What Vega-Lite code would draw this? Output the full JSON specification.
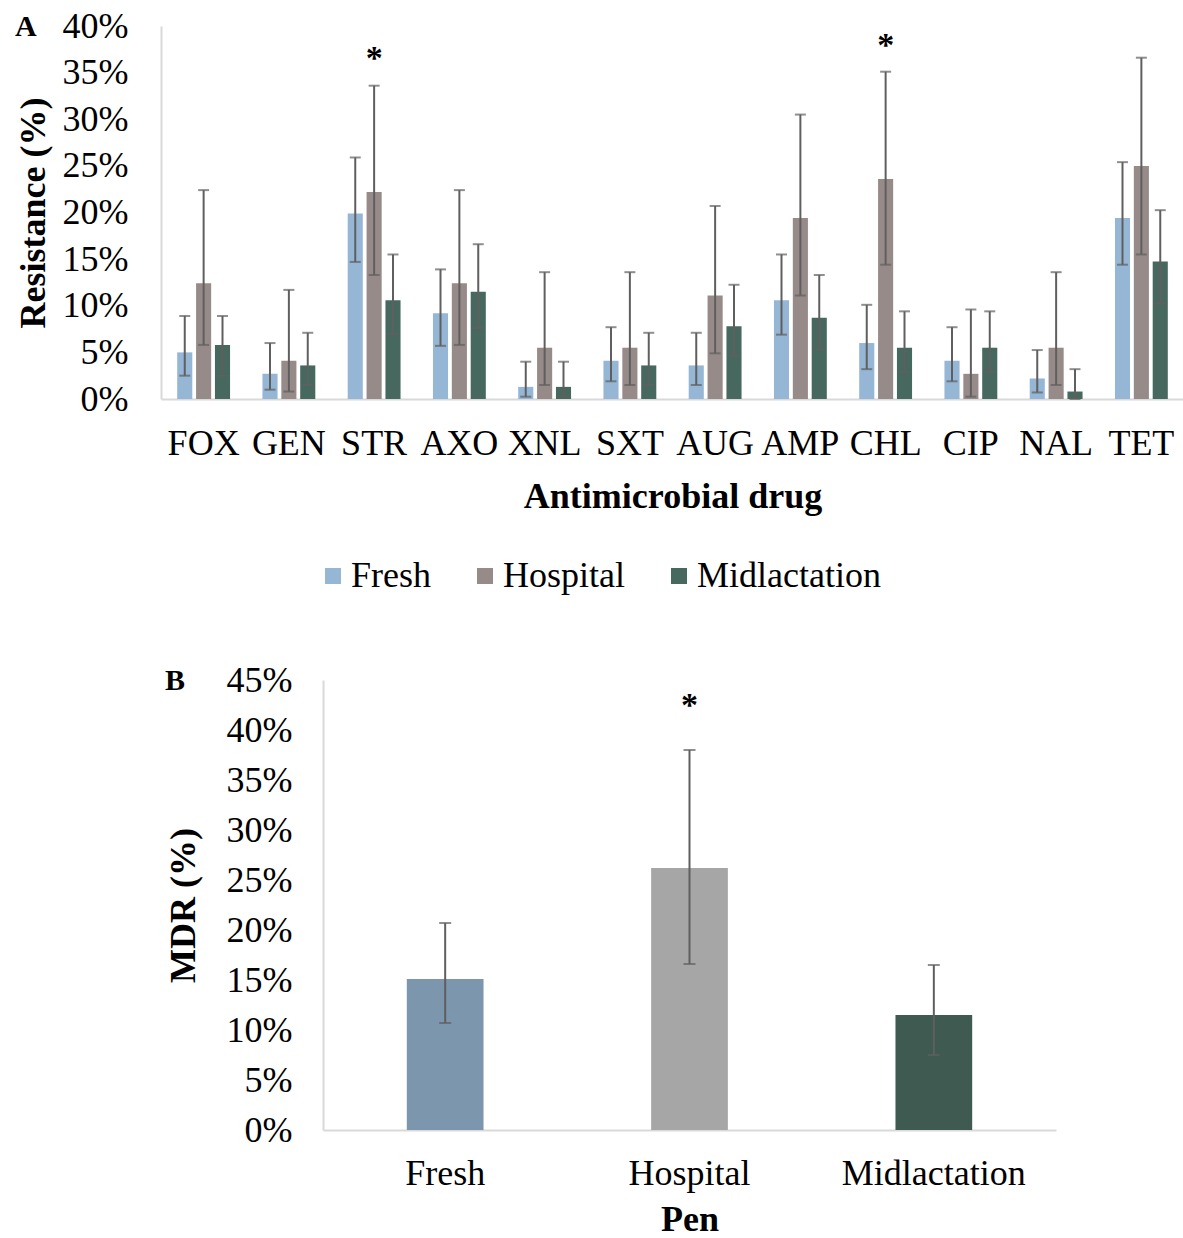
{
  "$schema": "https://vega.github.io/schema/vega-lite/v6.json",
  "background": "white",
  "padding": {"left": 15, "top": 8, "right": 0, "bottom": 0},
  "spacing": 68,
  "config": {
    "font": "Liberation Serif",
    "view": {"stroke": null},
    "axis": {
      "labelFont": "Liberation Serif",
      "titleFont": "Liberation Serif",
      "labelFontSize": 36,
      "titleFontSize": 36,
      "titleFontWeight": "bold",
      "labelColor": "#000000",
      "titleColor": "#000000",
      "labelLimit": 0,
      "grid": false,
      "ticks": false,
      "domainColor": "#d9d9d9",
      "domainWidth": 2
    },
    "legend": {
      "labelFont": "Liberation Serif",
      "labelFontSize": 36,
      "labelColor": "#000000",
      "labelLimit": 0,
      "symbolType": "square",
      "symbolSize": 256,
      "symbolStrokeWidth": 0,
      "labelOffset": 0,
      "columnPadding": 36
    },
    "title": {
      "font": "Liberation Serif",
      "fontSize": 30,
      "fontWeight": "bold",
      "color": "#000000"
    }
  },
  "resolve": {"scale": {"color": "independent", "x": "independent", "y": "independent"}},
  "vconcat": [
    {
      "width": 1023,
      "height": 373,
      "title": {"text": "A", "anchor": "start", "frame": "bounds", "offset": -34, "baseline": "top"},
      "data": {
        "values": [
          {"drug": "FOX", "pen": "Fresh", "value": 0.050, "lo": 0.025, "hi": 0.089},
          {"drug": "FOX", "pen": "Hospital", "value": 0.124, "lo": 0.058, "hi": 0.224},
          {"drug": "FOX", "pen": "Midlactation", "value": 0.058, "lo": 0.025, "hi": 0.089},
          {"drug": "GEN", "pen": "Fresh", "value": 0.027, "lo": 0.010, "hi": 0.060},
          {"drug": "GEN", "pen": "Hospital", "value": 0.041, "lo": 0.008, "hi": 0.117},
          {"drug": "GEN", "pen": "Midlactation", "value": 0.036, "lo": 0.015, "hi": 0.071},
          {"drug": "STR", "pen": "Fresh", "value": 0.199, "lo": 0.147, "hi": 0.259},
          {"drug": "STR", "pen": "Hospital", "value": 0.222, "lo": 0.133, "hi": 0.336, "star": 0.365},
          {"drug": "STR", "pen": "Midlactation", "value": 0.106, "lo": 0.069, "hi": 0.155},
          {"drug": "AXO", "pen": "Fresh", "value": 0.092, "lo": 0.057, "hi": 0.139},
          {"drug": "AXO", "pen": "Hospital", "value": 0.124, "lo": 0.058, "hi": 0.224},
          {"drug": "AXO", "pen": "Midlactation", "value": 0.115, "lo": 0.076, "hi": 0.166},
          {"drug": "XNL", "pen": "Fresh", "value": 0.013, "lo": 0.0025, "hi": 0.040},
          {"drug": "XNL", "pen": "Hospital", "value": 0.055, "lo": 0.015, "hi": 0.136},
          {"drug": "XNL", "pen": "Midlactation", "value": 0.013, "lo": 0.0025, "hi": 0.040},
          {"drug": "SXT", "pen": "Fresh", "value": 0.041, "lo": 0.019, "hi": 0.077},
          {"drug": "SXT", "pen": "Hospital", "value": 0.055, "lo": 0.015, "hi": 0.136},
          {"drug": "SXT", "pen": "Midlactation", "value": 0.036, "lo": 0.015, "hi": 0.071},
          {"drug": "AUG", "pen": "Fresh", "value": 0.036, "lo": 0.015, "hi": 0.071},
          {"drug": "AUG", "pen": "Hospital", "value": 0.111, "lo": 0.049, "hi": 0.207},
          {"drug": "AUG", "pen": "Midlactation", "value": 0.078, "lo": 0.046, "hi": 0.1225},
          {"drug": "AMP", "pen": "Fresh", "value": 0.106, "lo": 0.069, "hi": 0.155},
          {"drug": "AMP", "pen": "Hospital", "value": 0.194, "lo": 0.111, "hi": 0.305},
          {"drug": "AMP", "pen": "Midlactation", "value": 0.087, "lo": 0.053, "hi": 0.133},
          {"drug": "CHL", "pen": "Fresh", "value": 0.060, "lo": 0.032, "hi": 0.101},
          {"drug": "CHL", "pen": "Hospital", "value": 0.236, "lo": 0.144, "hi": 0.351, "star": 0.379},
          {"drug": "CHL", "pen": "Midlactation", "value": 0.055, "lo": 0.029, "hi": 0.094},
          {"drug": "CIP", "pen": "Fresh", "value": 0.041, "lo": 0.019, "hi": 0.077},
          {"drug": "CIP", "pen": "Hospital", "value": 0.027, "lo": 0.0025, "hi": 0.096},
          {"drug": "CIP", "pen": "Midlactation", "value": 0.055, "lo": 0.029, "hi": 0.094},
          {"drug": "NAL", "pen": "Fresh", "value": 0.022, "lo": 0.007, "hi": 0.0525},
          {"drug": "NAL", "pen": "Hospital", "value": 0.055, "lo": 0.015, "hi": 0.136},
          {"drug": "NAL", "pen": "Midlactation", "value": 0.008, "lo": 0.0, "hi": 0.032},
          {"drug": "TET", "pen": "Fresh", "value": 0.194, "lo": 0.144, "hi": 0.254},
          {"drug": "TET", "pen": "Hospital", "value": 0.250, "lo": 0.155, "hi": 0.366},
          {"drug": "TET", "pen": "Midlactation", "value": 0.1475, "lo": 0.1025, "hi": 0.2025}
        ]
      },
      "encoding": {
        "x": {
          "field": "drug",
          "type": "nominal",
          "sort": ["FOX", "GEN", "STR", "AXO", "XNL", "SXT", "AUG", "AMP", "CHL", "CIP", "NAL", "TET"],
          "scale": {"paddingInner": 0.38, "paddingOuter": 0.19},
          "axis": {"labelAngle": 0, "title": "Antimicrobial drug", "labelPadding": 27, "titlePadding": 18}
        },
        "xOffset": {
          "field": "pen",
          "type": "nominal",
          "sort": ["Fresh", "Hospital", "Midlactation"],
          "scale": {"paddingInner": 0.2, "paddingOuter": 0}
        }
      },
      "layer": [
        {
          "mark": {"type": "bar"},
          "encoding": {
            "y": {
              "field": "value",
              "type": "quantitative",
              "title": "Resistance (%)",
              "scale": {"domain": [0, 0.4]},
              "axis": {"values": [0, 0.05, 0.1, 0.15, 0.2, 0.25, 0.3, 0.35, 0.4], "format": ".0%", "labelPadding": 33, "titlePadding": 10}
            },
            "color": {
              "field": "pen",
              "type": "nominal",
              "sort": ["Fresh", "Hospital", "Midlactation"],
              "scale": {"domain": ["Fresh", "Hospital", "Midlactation"], "range": ["#95b6d4", "#978b89", "#47685f"]},
              "legend": {"title": null, "orient": "none", "direction": "horizontal", "legendX": 154, "legendY": 532}
            }
          }
        },
        {
          "mark": {"type": "rule", "color": "#5f5f5f", "strokeWidth": 2},
          "encoding": {
            "y": {"field": "lo", "type": "quantitative", "title": "Resistance (%)"},
            "y2": {"field": "hi"}
          }
        },
        {
          "mark": {"type": "tick", "color": "#5f5f5f", "thickness": 2, "size": 11},
          "encoding": {"y": {"field": "lo", "type": "quantitative", "title": "Resistance (%)"}}
        },
        {
          "mark": {"type": "tick", "color": "#5f5f5f", "thickness": 2, "size": 11},
          "encoding": {"y": {"field": "hi", "type": "quantitative", "title": "Resistance (%)"}}
        },
        {
          "transform": [{"filter": "isValid(datum.star)"}],
          "mark": {"type": "text", "text": "*", "fontSize": 34, "fontWeight": "bold", "font": "Liberation Serif", "baseline": "middle", "color": "#000000"},
          "encoding": {"y": {"field": "star", "type": "quantitative", "title": "Resistance (%)"}}
        }
      ]
    },
    {
      "spacing": 0,
      "align": "none",
      "resolve": {"scale": {"color": "independent", "x": "independent", "y": "independent"}},
      "hconcat": [
        {
          "width": 1,
          "height": 10,
          "data": {"values": [{"k": 1}]},
          "mark": {"type": "point", "opacity": 0},
          "encoding": {}
        },
        {
          "width": 733,
          "height": 450,
          "title": {"text": "B", "anchor": "start", "frame": "bounds", "offset": -34, "baseline": "top"},
          "data": {
            "values": [
              {"pen": "Fresh", "value": 0.151, "lo": 0.107, "hi": 0.207},
              {"pen": "Hospital", "value": 0.262, "lo": 0.166, "hi": 0.380, "star": 0.424},
              {"pen": "Midlactation", "value": 0.115, "lo": 0.075, "hi": 0.165}
            ]
          },
          "encoding": {
            "x": {
              "field": "pen",
              "type": "nominal",
              "sort": ["Fresh", "Hospital", "Midlactation"],
              "scale": {"paddingInner": 0.686, "paddingOuter": 0.343},
              "axis": {"labelAngle": 0, "title": "Pen", "labelPadding": 26, "titlePadding": 11}
            }
          },
          "layer": [
            {
              "mark": {"type": "bar"},
              "encoding": {
                "y": {
                  "field": "value",
                  "type": "quantitative",
                  "title": "MDR (%)",
                  "scale": {"domain": [0, 0.45]},
                  "axis": {"values": [0, 0.05, 0.1, 0.15, 0.2, 0.25, 0.3, 0.35, 0.4, 0.45], "format": ".0%", "labelPadding": 31, "titlePadding": 24}
                },
                "color": {
                  "field": "pen",
                  "type": "nominal",
                  "scale": {"domain": ["Fresh", "Hospital", "Midlactation"], "range": ["#7b96ad", "#a6a6a6", "#3e5a51"]},
                  "legend": null
                }
              }
            },
            {
              "mark": {"type": "rule", "color": "#5f5f5f", "strokeWidth": 2},
              "encoding": {
                "y": {"field": "lo", "type": "quantitative", "title": "MDR (%)"},
                "y2": {"field": "hi"}
              }
            },
            {
              "mark": {"type": "tick", "color": "#5f5f5f", "thickness": 2, "size": 12},
              "encoding": {"y": {"field": "lo", "type": "quantitative", "title": "MDR (%)"}}
            },
            {
              "mark": {"type": "tick", "color": "#5f5f5f", "thickness": 2, "size": 12},
              "encoding": {"y": {"field": "hi", "type": "quantitative", "title": "MDR (%)"}}
            },
            {
              "transform": [{"filter": "isValid(datum.star)"}],
              "mark": {"type": "text", "text": "*", "fontSize": 34, "fontWeight": "bold", "font": "Liberation Serif", "baseline": "middle", "color": "#000000"},
              "encoding": {"y": {"field": "star", "type": "quantitative", "title": "MDR (%)"}}
            }
          ]
        }
      ]
    }
  ]
}
